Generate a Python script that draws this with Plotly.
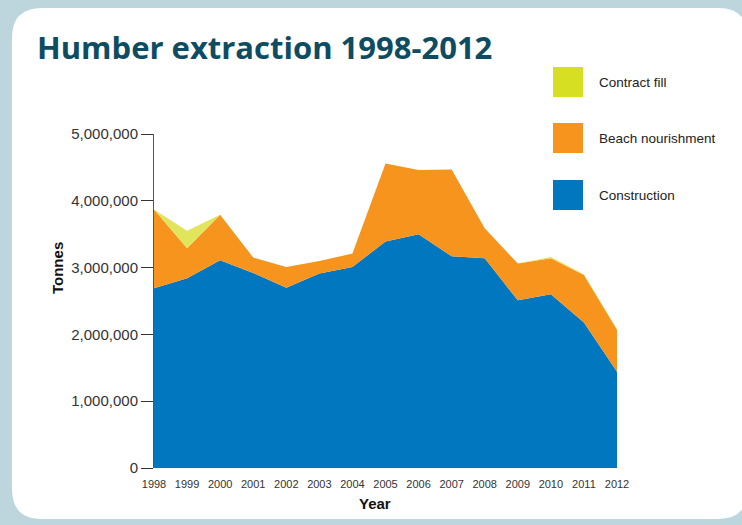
import plotly.graph_objects as go

years = list(range(1998, 2013))
construction = [2690000, 2840000, 3110000, 2920000, 2700000, 2910000, 3010000, 3390000,
                3500000, 3170000, 3140000, 2510000, 2600000, 2180000, 1440000]
beach = [1180000, 450000, 680000, 230000, 310000, 190000, 200000, 1170000,
         960000, 1300000, 450000, 550000, 540000, 710000, 630000]
contract = [0, 260000, 0, 0, 0, 0, 0, 0, 0, 0, 0, 0, 20000, 10000, 10000]

series_names = ["Construction", "Beach nourishment", "Contract fill"]
area_colors = ["#0077be", "#f7941e", "#e0e55c"]
legend_colors = ["#0077be", "#f7941e", "#d7df23"]
ytick_vals = [0, 1000000, 2000000, 3000000, 4000000, 5000000]

W, H = 742, 525
L, R, T, B = 154, 617, 134, 468
FONT = "Liberation Sans Narrow, Arial Narrow, Liberation Sans"


def px(x):
    return (x - L) / (R - L)


def py(y):
    return (B - y) / (B - T)


fig = go.Figure()
for name, vals, col in zip(series_names, [construction, beach, contract], area_colors):
    fig.add_trace(go.Scatter(x=years, y=vals, name=name, stackgroup="one", mode="none",
                             fillcolor=col, line=dict(width=0), showlegend=False))

# card background (rounded rect)
x0, y0, x1, y1, r = 12, 8, 748, 519, 30
path = (f"M {px(x0+r)},{py(y0)} L {px(x1-r)},{py(y0)} "
        f"Q {px(x1)},{py(y0)} {px(x1)},{py(y0+r)} "
        f"L {px(x1)},{py(y1-r)} Q {px(x1)},{py(y1)} {px(x1-r)},{py(y1)} "
        f"L {px(x0+r)},{py(y1)} Q {px(x0)},{py(y1)} {px(x0)},{py(y1-r)} "
        f"L {px(x0)},{py(y0+r)} Q {px(x0)},{py(y0)} {px(x0+r)},{py(y0)} Z")
shapes = [dict(type="path", xref="paper", yref="paper", path=path, fillcolor="white",
               line=dict(width=0), layer="below")]

# legend squares
leg_y = [82, 138, 195]
leg_names = ["Contract fill", "Beach nourishment", "Construction"]
leg_cols = [legend_colors[2], legend_colors[1], legend_colors[0]]
annotations = []
for yc, nm, col in zip(leg_y, leg_names, leg_cols):
    shapes.append(dict(type="rect", xref="paper", yref="paper",
                       x0=px(553), x1=px(583), y0=py(yc - 15), y1=py(yc + 15),
                       fillcolor=col, line=dict(width=0)))
    annotations.append(dict(text=nm, xref="paper", yref="paper", x=px(597), y=py(yc),
                            xanchor="left", yanchor="middle", showarrow=False,
                            font=dict(family=FONT, size=13.5, color="#222")))

annotations.append(dict(text="<b>Humber extraction 1998-2012</b>", xref="paper", yref="paper",
                        x=px(35), y=py(47), xanchor="left", yanchor="middle", showarrow=False,
                        font=dict(family="Open Sans", size=31, color="#0e4c62")))
annotations.append(dict(text="<b>Year</b>", xref="paper", yref="paper", x=px(375), y=py(503),
                        xanchor="center", yanchor="middle", showarrow=False,
                        font=dict(family=FONT, size=15, color="#111")))
annotations.append(dict(text="<b>Tonnes</b>", xref="paper", yref="paper", x=px(57), y=py(268),
                        xanchor="center", yanchor="middle", showarrow=False, textangle=-90,
                        font=dict(family=FONT, size=15, color="#111")))

fig.update_layout(
    width=W, height=H,
    margin=dict(l=L, r=W - R, t=T, b=H - B),
    paper_bgcolor="#bdd6de",
    plot_bgcolor="rgba(0,0,0,0)",
    shapes=shapes, annotations=annotations, showlegend=False,
    xaxis=dict(range=[1998, 2012], tickvals=years, ticktext=[str(y) for y in years],
               showgrid=False, zeroline=False, showline=False,
               ticks="outside", ticklen=6, tickcolor="rgba(0,0,0,0)",
               tickfont=dict(family=FONT, size=11, color="#333")),
    yaxis=dict(range=[0, 5000000], tickvals=ytick_vals, tickformat=",",
               showgrid=False, zeroline=False, showline=True, linecolor="#555", linewidth=1,
               ticks="outside", ticklen=12, tickcolor="#333", tickwidth=1.2,
               tickfont=dict(family=FONT, size=15, color="#333")),
)

fig.write_html("out.html")
